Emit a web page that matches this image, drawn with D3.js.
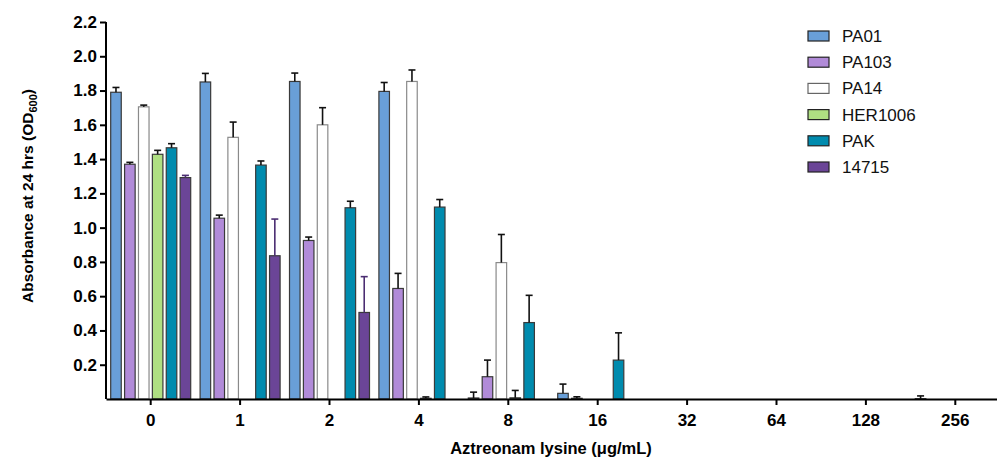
<!DOCTYPE html>
<html>
<head>
<meta charset="utf-8">
<script src="https://cdn.jsdelivr.net/npm/d3@7"></script>
<style>
  body { margin: 0; background: #fff; }
  svg text { font-family: "Liberation Sans", Arial, sans-serif; }
</style>
</head>
<body>
<svg id="chart" width="997" height="458"></svg>
<script>
// Concentrations (x categories) and strains (series)
var doses = ["0", "1", "2", "4", "8", "16", "32", "64", "128", "256"];
var strains = ["PA01", "PA103", "PA14", "HER1006", "PAK", "14715"];
var colors = ["#699fd8", "#b18bd8", "#ffffff", "#afdf82", "#008bae", "#6b4597"];

// Mean OD600 per strain, one value per dose
var PA01    = [1.79, 1.85, 1.853, 1.795, 0.006, 0.033, 0, 0, 0, 0.002];
var PA103   = [1.37, 1.055, 0.925, 0.645, 0.13, 0.004, 0, 0, 0, 0];
var PA14    = [1.705, 1.527, 1.60, 1.853, 0.796, 0, 0, 0, 0, 0];
var HER1006 = [1.428, 0, 0, 0.004, 0.007, 0, 0, 0, 0, 0];
var PAK     = [1.466, 1.365, 1.116, 1.12, 0.446, 0.227, 0, 0, 0, 0];
var S14715  = [1.292, 0.836, 0.505, 0, 0, 0, 0, 0, 0, 0];

// Upper end of each error bar
var PA01_err    = [1.818, 1.90, 1.902, 1.847, 0.04, 0.087, 0, 0, 0, 0.018];
var PA103_err   = [1.381, 1.073, 0.945, 0.733, 0.227, 0.013, 0, 0, 0, 0];
var PA14_err    = [1.715, 1.616, 1.70, 1.92, 0.96, 0, 0, 0, 0, 0];
var HER1006_err = [1.451, 0, 0, 0.012, 0.05, 0, 0, 0, 0, 0];
var PAK_err     = [1.49, 1.389, 1.154, 1.164, 0.605, 0.386, 0, 0, 0, 0];
var S14715_err  = [1.305, 1.05, 0.714, 0, 0, 0, 0, 0, 0, 0];

var yTicks = [0.2, 0.4, 0.6, 0.8, 1.0, 1.2, 1.4, 1.6, 1.8, 2.0, 2.2];

var means = [PA01, PA103, PA14, HER1006, PAK, S14715];
var errs = [PA01_err, PA103_err, PA14_err, HER1006_err, PAK_err, S14715_err];

var rows = [];
doses.forEach(function (d, i) {
    strains.forEach(function (s, j) {
        rows.push({ dose: d, strain: s, value: means[j][i], top: errs[j][i], color: colors[j] });
    });
});

var svg = d3.select("#chart");

var x0 = d3.scaleBand().domain(doses).range([106, 1000]);
var x1 = d3.scaleBand().domain(strains).range([-40, 40]).paddingInner(0.24);
var y = d3.scaleLinear().domain([0, 2.2]).range([399, 22]);

function barX(d) {
    return x0(d.dose) + x0.bandwidth() / 2 + x1(d.strain);
}

// Bars
svg.append("g").selectAll("rect")
    .data(rows.filter(d => d.value > 0))
    .enter().append("rect")
    .attr("x", barX)
    .attr("width", x1.bandwidth())
    .attr("y", d => y(d.value))
    .attr("height", d => y(0) - y(d.value))
    .attr("fill", d => d.color)
    .attr("stroke", d => d.strain === "PA14" ? "#8a8a8a" : "#3a3a3a")
    .attr("stroke-width", 1.2);

// Error bars (upward only, with cap)
var eb = svg.append("g").selectAll("g")
    .data(rows.filter(d => d.top > d.value))
    .enter().append("g")
    .attr("stroke", d => d.strain === "14715" ? "#4b2d72" : "#111")
    .attr("stroke-width", 1.6);

eb.append("line")
    .attr("x1", d => barX(d) + x1.bandwidth() / 2)
    .attr("x2", d => barX(d) + x1.bandwidth() / 2)
    .attr("y1", d => y(d.value))
    .attr("y2", d => y(d.top));

eb.append("line")
    .attr("x1", d => barX(d) + x1.bandwidth() / 2 - 3.5)
    .attr("x2", d => barX(d) + x1.bandwidth() / 2 + 3.5)
    .attr("y1", d => y(d.top))
    .attr("y2", d => y(d.top));

// Axes
var xAxis = svg.append("g")
    .attr("transform", "translate(0," + y(0) + ")")
    .call(d3.axisBottom(x0).tickSize(6).tickSizeOuter(0).tickPadding(9));

var yAxis = svg.append("g")
    .attr("transform", "translate(106,0)")
    .call(d3.axisLeft(y).tickValues(yTicks).tickFormat(d3.format(".1f")).tickSize(6).tickSizeOuter(0).tickPadding(3));

yAxis.select(".domain").attr("d", "M0," + y(2.2) + "V" + y(0));

[xAxis, yAxis].forEach(function (a) {
    a.attr("font-size", null).attr("font-family", null);
    a.selectAll("path, line").attr("stroke", "#000").attr("stroke-width", 2);
    a.selectAll("text")
        .style("font-size", "17px")
        .style("font-weight", "bold")
        .attr("fill", "#000");
});

// Axis titles
svg.append("text")
    .attr("x", 551)
    .attr("y", 454)
    .attr("text-anchor", "middle")
    .style("font-size", "16.5px")
    .style("font-weight", "bold")
    .text("Aztreonam lysine (\u03BCg/mL)");

var yt = svg.append("text")
    .attr("transform", "translate(33,196) rotate(-90)")
    .attr("text-anchor", "middle")
    .style("font-size", "15.5px")
    .style("font-weight", "bold");
yt.append("tspan").text("Absorbance at 24 hrs (OD");
yt.append("tspan").attr("dy", 4).style("font-size", "11px").text("600");
yt.append("tspan").attr("dy", -4).text(")");

// Legend
var legend = svg.append("g").selectAll("g")
    .data(strains)
    .enter().append("g")
    .attr("transform", (d, i) => "translate(808," + (31 + i * 26.2) + ")");

legend.append("rect")
    .attr("width", 21)
    .attr("height", 10)
    .attr("fill", (d, i) => colors[i])
    .attr("stroke", (d, i) => i === 2 ? "#666" : "#222")
    .attr("stroke-width", 1.2);

legend.append("text")
    .attr("x", 34)
    .attr("y", 11)
    .style("font-size", "17px")
    .attr("fill", "#111")
    .text(d => d);
</script>
</body>
</html>
